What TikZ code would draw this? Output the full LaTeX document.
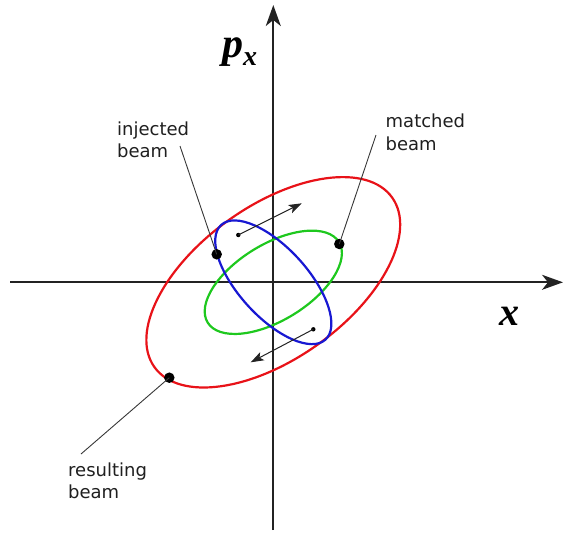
\documentclass[tikz,border=0pt]{standalone}
\usepackage{fontspec}
\setmainfont{DejaVu Sans}
\newfontfamily\bisf{Liberation Serif}
\usetikzlibrary{arrows.meta}
\definecolor{ellred}{RGB}{232,18,24}
\definecolor{ellblue}{RGB}{24,24,210}
\definecolor{ellgreen}{RGB}{30,200,30}
\definecolor{axisgray}{RGB}{35,35,35}
\definecolor{leadgray}{RGB}{55,55,55}
\begin{document}
\begin{tikzpicture}[x=1pt,y=-1pt,
  axisline/.style={line width=1.8pt, color=axisgray, -{Stealth[length=21pt,width=15pt,inset=6pt]}},
  ellipseline/.style={line width=2.2pt},
  leader/.style={line width=0.9pt, color=leadgray},
  motion/.style={line width=1pt, color=axisgray, -{Stealth[length=13pt,width=9pt,inset=3pt]}},
  bigdot/.style={circle, fill=black, inner sep=0pt, minimum size=10.5pt},
  smalldot/.style={circle, fill=black, inner sep=0pt, minimum size=4.4pt},
  lbl/.style={anchor=base west, inner sep=0pt, align=left, font=\fontsize{18}{22.3}\selectfont, text=black!88},
  axlbl/.style={anchor=base west, inner sep=0pt}
]
\useasboundingbox (0,0) rectangle (567,533);
\coordinate (O) at (273.3,282.3);
% axes
\coordinate (xl) at (10,282.3);
\coordinate (xr) at (563,282.3);
\coordinate (yb) at (273.3,530);
\coordinate (yt) at (273.3,5);
\draw[axisline] (xl) -- (xr);
\draw[axisline] (yb) -- (yt);
% ellipses
\draw[ellipseline, ellred, rotate around={35.5:(O)}] (O) ellipse [x radius=146pt, y radius=76.5pt];
\draw[ellipseline, ellgreen, rotate around={31.5:(O)}] (O) ellipse [x radius=77pt, y radius=38pt];
\draw[ellipseline, ellblue, rotate around={-47.7:(O)}] (O) ellipse [x radius=77.5pt, y radius=34.5pt];
% motion arrows
\node[smalldot] (s1) at (238.3,235) {};
\coordinate (t1) at (301.7,203.3);
\draw[motion] (s1.center) -- (t1);
\node[smalldot] (s2) at (313.3,329.3) {};
\coordinate (t2) at (250.7,362.3);
\draw[motion] (s2.center) -- (t2);
% beam points
\node[bigdot] (inj) at (216.7,254.3) {};
\node[bigdot] (mat) at (339.3,244) {};
\node[bigdot] (res) at (169.3,377.7) {};
% leaders
\coordinate (injend) at (180,146);
\coordinate (matend) at (376,135);
\coordinate (resend) at (81,454);
\draw[leader] (injend) -- (inj.center);
\draw[leader] (matend) -- (mat.center);
\draw[leader] (resend) -- (res.center);
% labels (base anchor = baseline of last line)
\node[lbl] (injl) at (117,157.3) {injected\\beam};
\node[lbl] (matl) at (385.5,150) {matched\\beam};
\node[lbl] (resl) at (68,498.3) {resulting\\beam};
\node[axlbl] (pxl) at (222,57) {\bisf\bfseries\itshape\fontsize{42}{42}\selectfont p\raisebox{-8pt}{\fontsize{28}{28}\selectfont x}};
\node[axlbl] (xlab) at (499,325) {\bisf\bfseries\itshape\fontsize{40}{40}\selectfont x};
\end{tikzpicture}
\end{document}
